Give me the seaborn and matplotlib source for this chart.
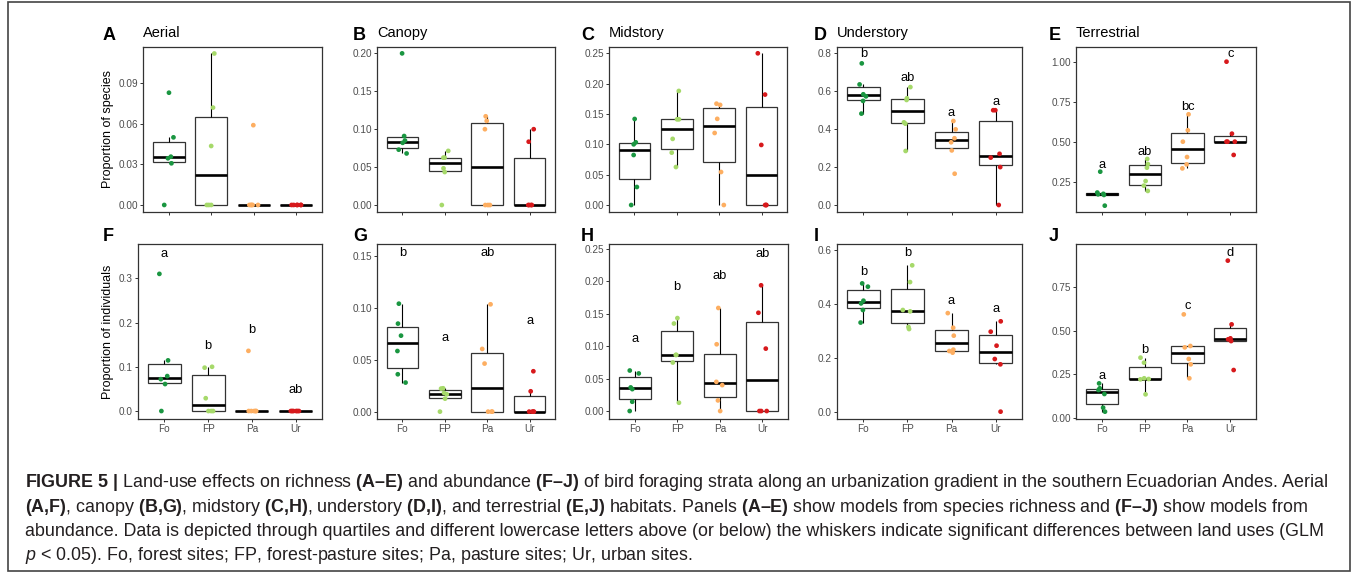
import numpy as np
import pandas as pd
import matplotlib
matplotlib.use("Agg")
import matplotlib.pyplot as plt
from matplotlib.patches import Rectangle
import seaborn as sns

# land uses and their colours
land_uses = ["Fo", "FP", "Pa", "Ur"]
colors = ["#1A9641", "#A6D96A", "#FDAE61", "#D7191C"]

# proportion of species (one list per land use, 6 sites each)
aerial_sp = [[0, 0.0308, 0.0345, 0.0357, 0.050, 0.083],
             [0, 0, 0, 0.0436, 0.072, 0.112],
             [0, 0, 0, 0, 0, 0.059],
             [0, 0, 0, 0, 0, 0]]
canopy_sp = [[0.068, 0.073, 0.082, 0.085, 0.091, 0.200],
             [0, 0.0435, 0.0484, 0.0625, 0.0625, 0.0714],
             [0, 0, 0, 0.100, 0.111, 0.117],
             [0, 0, 0, 0, 0.0835, 0.100]]
midstory_sp = [[0, 0.0297, 0.0824, 0.100, 0.1033, 0.1418],
               [0.0626, 0.0863, 0.109, 0.1412, 0.1412, 0.188],
               [0, 0.0544, 0.1187, 0.142, 0.165, 0.167],
               [0, 0, 0, 0.099, 0.182, 0.250]]
understory_sp = [[0.482, 0.549, 0.573, 0.584, 0.636, 0.747],
                 [0.285, 0.429, 0.436, 0.554, 0.563, 0.622],
                 [0.165, 0.288, 0.331, 0.352, 0.399, 0.443],
                 [0, 0.200, 0.250, 0.270, 0.500, 0.500]]
terrestrial_sp = [[0.100, 0.167, 0.171, 0.174, 0.182, 0.3125],
                  [0.192, 0.225, 0.254, 0.3375, 0.360, 0.392],
                  [0.333, 0.358, 0.404, 0.500, 0.571, 0.671],
                  [0.417, 0.500, 0.500, 0.500, 0.550, 1.000]]

# proportion of individuals
aerial_ind = [[0, 0.061, 0.072, 0.079, 0.1145, 0.310],
              [0, 0, 0, 0.029, 0.098, 0.100],
              [0, 0, 0, 0, 0, 0.136],
              [0, 0, 0, 0, 0, 0]]
canopy_ind = [[0.028, 0.036, 0.0584, 0.0732, 0.0848, 0.104],
              [0, 0.0125, 0.0167, 0.018, 0.0222, 0.0225],
              [0, 0, 0, 0.0463, 0.0604, 0.1034],
              [0, 0, 0, 0, 0.0196, 0.0389]]
midstory_ind = [[0, 0.0143, 0.0338, 0.0364, 0.058, 0.0625],
                [0.0128, 0.0748, 0.0866, 0.0866, 0.135, 0.1434],
                [0, 0.0164, 0.040, 0.045, 0.103, 0.159],
                [0, 0, 0, 0.0963, 0.1516, 0.194]]
understory_ind = [[0.330, 0.3765, 0.401, 0.411, 0.463, 0.475],
                  [0.306, 0.3136, 0.3716, 0.3765, 0.480, 0.542],
                  [0.2185, 0.2247, 0.2296, 0.2815, 0.311, 0.365],
                  [0, 0.1753, 0.195, 0.2444, 0.2963, 0.3346]]
terrestrial_ind = [[0.038, 0.0607, 0.1386, 0.161, 0.171, 0.199],
                   [0.1367, 0.222, 0.224, 0.228, 0.317, 0.3455],
                   [0.228, 0.3075, 0.338, 0.404, 0.412, 0.592],
                   [0.275, 0.440, 0.450, 0.4555, 0.535, 0.898]]

# significance letters and their heights
understory_sp_letters = ["b", "ab", "a", "a"]
understory_sp_letter_y = [0.795, 0.668, 0.487, 0.541]
terrestrial_sp_letters = ["a", "ab", "bc", "c"]
terrestrial_sp_letter_y = [0.354, 0.4375, 0.717, 1.046]
aerial_ind_letters = ["a", "b", "b", "ab"]
aerial_ind_letter_y = [0.356, 0.147, 0.183, 0.047]
canopy_ind_letters = ["b", "a", "ab", "a"]
canopy_ind_letter_y = [0.1525, 0.0706, 0.1525, 0.0873]
midstory_ind_letters = ["a", "b", "ab", "ab"]
midstory_ind_letter_y = [0.1107, 0.192, 0.208, 0.243]
understory_ind_letters = ["b", "b", "a", "a"]
understory_ind_letter_y = [0.5185, 0.589, 0.410, 0.379]
terrestrial_ind_letters = ["a", "b", "c", "d"]
terrestrial_ind_letter_y = [0.241, 0.389, 0.640, 0.943]

W, H = 1358, 573
TEXT = "#231F20"


def px_rect(left, top, right, bottom):
    return [left / W, 1 - bottom / H, (right - left) / W, (bottom - top) / H]


def draw_panel(ax, values, ylim, yticks, fmt, letters=None, letter_y=None, show_x=False):
    df = pd.DataFrame({
        "land_use": np.repeat(land_uses, [len(v) for v in values]),
        "value": np.concatenate(values),
    })
    sns.boxplot(data=df, x="land_use", y="value", order=land_uses, width=0.75,
                color="white", linecolor="#333333", linewidth=0.9,
                showfliers=False, showcaps=False,
                medianprops=dict(color="black", linewidth=1.9),
                whiskerprops=dict(color="black", linewidth=0.8), ax=ax)
    sns.stripplot(data=df, x="land_use", y="value", order=land_uses,
                  hue="land_use", hue_order=land_uses, palette=colors,
                  jitter=0.12, size=3.4, linewidth=0, legend=False, ax=ax, zorder=3)
    if letters is not None:
        for i, (s, y) in enumerate(zip(letters, letter_y)):
            ax.text(i, y, s, ha="center", va="center", fontsize=9.3, color="black")
    ax.set_xlim(-0.6, 3.6)
    ax.set_ylim(*ylim)
    ax.set_yticks(yticks)
    ax.set_yticklabels([fmt.format(t) for t in yticks])
    ax.set_xlabel("")
    ax.set_ylabel("")
    if not show_x:
        ax.set_xticklabels([])
    for sp in ax.spines.values():
        sp.set_visible(True)
        sp.set_color("#333333")
        sp.set_linewidth(0.9)
    ax.tick_params(axis="both", direction="out", length=2.2, width=0.7, color="#333333",
                   labelcolor="#4D4D4D", labelsize=7.2, pad=1.5)


np.random.seed(7)
sns.set_style("ticks")
plt.rcParams["font.family"] = ["Liberation Sans", "DejaVu Sans"]
plt.rcParams["mathtext.fontset"] = "custom"
plt.rcParams["mathtext.rm"] = "Liberation Sans"
plt.rcParams["mathtext.bf"] = "Liberation Sans:bold"
plt.rcParams["mathtext.it"] = "Liberation Sans:italic"

fig = plt.figure(figsize=(W / 100, H / 100), dpi=100)

panels = [
    # data, tag, title, (l, t, r, b), ylim, yticks, fmt, letters, letter_y, show_x, tag_x
    (aerial_sp, "A", "Aerial", (143, 47, 322, 212), (-0.0052, 0.1168), [0, 0.03, 0.06, 0.09], "{:.2f}", None, None, False, 103),
    (canopy_sp, "B", "Canopy", (377, 47, 555, 212), (-0.0092, 0.2084), [0, 0.05, 0.10, 0.15, 0.20], "{:.2f}", None, None, False, 353),
    (midstory_sp, "C", "Midstory", (609, 47, 787, 212), (-0.0115, 0.2604), [0, 0.05, 0.10, 0.15, 0.20, 0.25], "{:.2f}", None, None, False, 581),
    (understory_sp, "D", "Understory", (837, 47, 1022, 212), (-0.0369, 0.8334), [0, 0.2, 0.4, 0.6, 0.8], "{:.1f}", understory_sp_letters, understory_sp_letter_y, False, 814),
    (terrestrial_sp, "E", "Terrestrial", (1076, 47, 1256, 212), (0.0604, 1.0917), [0.25, 0.50, 0.75, 1.00], "{:.2f}", terrestrial_sp_letters, terrestrial_sp_letter_y, False, 1049),
    (aerial_ind, "F", "", (138, 244, 322, 419), (-0.018, 0.3775), [0, 0.1, 0.2, 0.3], "{:.1f}", aerial_ind_letters, aerial_ind_letter_y, True, 103),
    (canopy_ind, "G", "", (377, 244, 555, 419), (-0.0071, 0.1615), [0, 0.05, 0.10, 0.15], "{:.2f}", canopy_ind_letters, canopy_ind_letter_y, True, 353),
    (midstory_ind, "H", "", (609, 244, 788, 419), (-0.0123, 0.2577), [0, 0.05, 0.10, 0.15, 0.20, 0.25], "{:.2f}", midstory_ind_letters, midstory_ind_letter_y, True, 581),
    (understory_ind, "I", "", (837, 244, 1022, 419), (-0.0272, 0.621), [0, 0.2, 0.4, 0.6], "{:.1f}", understory_ind_letters, understory_ind_letter_y, True, 814),
    (terrestrial_ind, "J", "", (1076, 244, 1256, 419), (-0.0038, 0.9927), [0, 0.25, 0.50, 0.75], "{:.2f}", terrestrial_ind_letters, terrestrial_ind_letter_y, True, 1049),
]

axes = []
for values, tag, title, box, ylim, yticks, fmt, letters, letter_y, show_x, tag_x in panels:
    ax = fig.add_axes(px_rect(*box))
    draw_panel(ax, values, ylim, yticks, fmt, letters, letter_y, show_x)
    axes.append(ax)
    tag_base = 40 if box[1] < 100 else 241
    fig.text(tag_x / W, 1 - tag_base / H, tag, fontsize=13, fontweight="bold",
             color="black", va="baseline", ha="left")
    if title:
        fig.text(box[0] / W, 1 - 37 / H, title, fontsize=10.5, color="black",
                 va="baseline", ha="left")

# y axis titles
axes[0].set_ylabel("Proportion of species", fontsize=9, color="black")
axes[0].yaxis.set_label_coords((114 - 143) / (322 - 143), 0.5)
axes[5].set_ylabel("Proportion of individuals", fontsize=9, color="black")
axes[5].yaxis.set_label_coords((114 - 138) / (322 - 138), 0.5)

# caption
caption_lines = [
    r"$\mathbf{FIGURE\ 5\ |}$ Land-use effects on richness $\mathbf{(A–E)}$ and abundance "
    r"$\mathbf{(F–J)}$ of bird foraging strata along an urbanization gradient in the southern "
    r"Ecuadorian Andes. Aerial",
    r"$\mathbf{(A{,}F)}$, canopy $\mathbf{(B{,}G)}$, midstory $\mathbf{(C{,}H)}$, understory "
    r"$\mathbf{(D{,}I)}$, and terrestrial $\mathbf{(E{,}J)}$ habitats. Panels $\mathbf{(A–E)}$ "
    r"show models from species richness and $\mathbf{(F–J)}$ show models from",
    "abundance. Data is depicted through quartiles and different lowercase letters above "
    "(or below) the whiskers indicate significant differences between land uses (GLM",
    r"$\mathit{p}$ < 0.05). Fo, forest sites; FP, forest-pasture sites; Pa, pasture sites; "
    "Ur, urban sites.",
]
caption_base = [487, 511.5, 536, 560]
for line, yb in zip(caption_lines, caption_base):
    fig.text(25 / W, 1 - yb / H, line, fontsize=12.85, color=TEXT, va="baseline", ha="left")

# outer frame
fig.add_artist(Rectangle((8 / W, 2 / H), (1350 - 8) / W, (571 - 2) / H,
                         transform=fig.transFigure, fill=False,
                         edgecolor="#444444", linewidth=1.2))

fig.savefig("out.png", dpi=100)
